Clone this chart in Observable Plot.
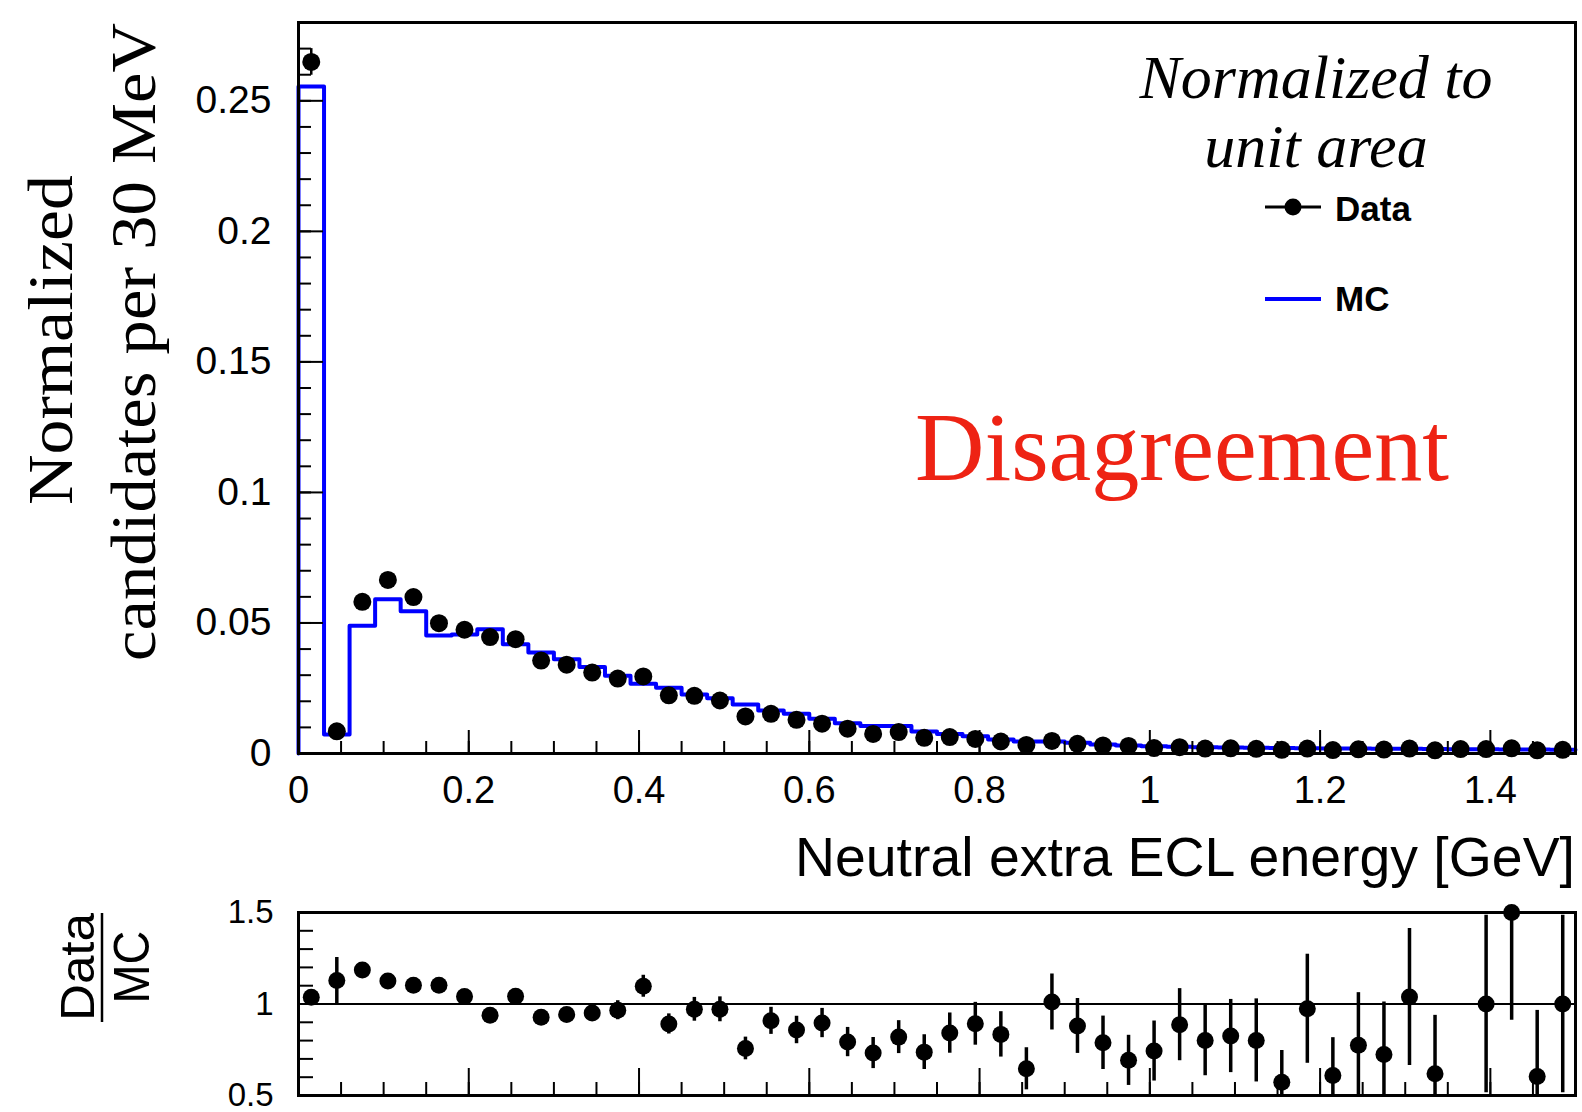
<!DOCTYPE html>
<html>
<head>
<meta charset="utf-8">
<script src="https://cdn.jsdelivr.net/npm/d3@7"></script>
<script src="https://cdn.jsdelivr.net/npm/@observablehq/plot@0.6"></script>
<style>
html, body { margin: 0; padding: 0; background: #fff; }
#wrap { position: relative; width: 1582px; height: 1112px; overflow: hidden; background: #fff; }
#main { position: absolute; left: 0; top: 0; }
#ratio { position: absolute; left: 0; top: 890px; }
svg { overflow: visible; }
</style>
</head>
<body>
<div id="wrap"><div id="main"></div><div id="ratio"></div></div>
<script>
// ---------- data ----------
const binWidth = 0.03;          // 30 MeV bins
const xRange = [0, 1.5];

// Data: normalized candidates per bin
const dataVals = [0.2649, 0.0085, 0.0581, 0.0665, 0.0599, 0.0499, 0.0474, 0.0446, 0.0438, 0.0356,
                  0.0340, 0.0310, 0.0287, 0.0295, 0.0223, 0.0221, 0.0203, 0.0142, 0.0152, 0.0129,
                  0.0114, 0.0095, 0.0075, 0.0082, 0.0060, 0.0063, 0.0056, 0.0046, 0.0033, 0.0048,
                  0.0037, 0.0031, 0.0029, 0.0021, 0.0024, 0.0019, 0.0020, 0.0018, 0.0014, 0.0019,
                  0.0013, 0.0016, 0.0015, 0.0019, 0.0012, 0.0017, 0.0017, 0.0020, 0.0012, 0.0014];
const dataErr  = [0.0051, 0.0008, 0.0014, 0.0015, 0.0014, 0.0013, 0.0013, 0.0012, 0.0012, 0.0011,
                  0.0011, 0.0010, 0.0010, 0.0010, 0.0009, 0.0009, 0.0009, 0.0008, 0.0008, 0.0007,
                  0.0007, 0.0006, 0.0006, 0.0006, 0.0005, 0.0005, 0.0005, 0.0005, 0.0004, 0.0004,
                  0.0004, 0.0004, 0.0004, 0.0003, 0.0003, 0.0003, 0.0003, 0.0003, 0.0003, 0.0003,
                  0.0003, 0.0003, 0.0003, 0.0003, 0.0003, 0.0003, 0.0003, 0.0003, 0.0003, 0.0003];
// MC: normalized histogram
const mcVals   = [0.2555, 0.0073, 0.0489, 0.0591, 0.0545, 0.0452, 0.0456, 0.0476, 0.0418, 0.0387,
                  0.0361, 0.0331, 0.0298, 0.0267, 0.0252, 0.0226, 0.0212, 0.0188, 0.0165, 0.0152,
                  0.0133, 0.0116, 0.0105, 0.0105, 0.0084, 0.0075, 0.0066, 0.0054, 0.0046, 0.0046,
                  0.0041, 0.0034, 0.0031, 0.0028, 0.0026, 0.0024, 0.0023, 0.0022, 0.0021, 0.0020,
                  0.0019, 0.0019, 0.0018, 0.0018, 0.0017, 0.0016, 0.0016, 0.0015, 0.0015, 0.0014];
// Data / MC ratio and its uncertainty (null = not shown)
const ratioVals = [1.037, 1.128, 1.186, 1.126, 1.103, 1.103, 1.041, 0.939, 1.042, 0.928,
                   0.942, 0.951, 0.966, 1.097, 0.891, 0.971, 0.971, 0.757, 0.908, 0.858,
                   0.896, 0.792, 0.732, 0.819, 0.737, 0.841, 0.892, 0.834, 0.646, 1.011,
                   0.880, 0.788, 0.692, 0.743, 0.887, 0.801, 0.825, 0.801, 0.573, 0.974,
                   0.609, 0.774, 0.724, 1.038, 0.619, null, 1.000, 1.500, 0.604, 1.000];
const ratioErr  = [0.015, 0.126, 0.020, 0.020, 0.020, 0.020, 0.022, 0.025, 0.025, 0.030,
                   0.030, 0.035, 0.052, 0.060, 0.055, 0.065, 0.068, 0.062, 0.074, 0.075,
                   0.080, 0.080, 0.085, 0.090, 0.095, 0.110, 0.117, 0.124, 0.115, 0.153,
                   0.150, 0.146, 0.137, 0.164, 0.197, 0.193, 0.200, 0.227, 0.173, 0.298,
                   0.207, 0.288, 0.287, 0.374, 0.319, null, 0.485, 0.589, 0.361, 0.485];

// tick labels
const mainYTicks  = [0, 0.05, 0.1, 0.15, 0.2, 0.25];
const xTicks      = [0, 0.2, 0.4, 0.6, 0.8, 1, 1.2, 1.4];
const ratioYTicks = [0.5, 1, 1.5];

// texts
const yTitle = ["Normalized", "candidates per 30 MeV"];
const xTitle = "Neutral extra ECL energy [GeV]";
const legendTitle = ["Normalized to", "unit area"];
const legendItems = ["Data", "MC"];
const stamp = "Disagreement";

// ---------- derived tables ----------
const bins = dataVals.map((v, i) => ({
  x: (i + 0.5) * binWidth, data: v, err: dataErr[i], mc: mcVals[i], r: ratioVals[i], re: ratioErr[i]
}));
const mcStep = [{x: 0, y: 0}]
  .concat(mcVals.map((v, i) => ({x: i * binWidth, y: v})))
  .concat([{x: mcVals.length * binWidth, y: mcVals[mcVals.length - 1]}]);
const ratioBins = bins.filter(d => d.r != null);

const minorYMain = d3.range(0, 29).map(i => i / 100);
const minorX = d3.range(0, 31).map(i => i * 0.05);
const minorYRatio = d3.range(5, 16).map(i => i / 10);

const SANS = "'Liberation Sans', Arial, Helvetica, sans-serif";
const SERIF = "'Liberation Serif', 'Times New Roman', Times, serif";
const BLUE = "#0000ff";
const blank = () => "";

// ---------- main panel ----------
const main = Plot.plot({
  width: 1582, height: 890,
  marginLeft: 298, marginRight: 7, marginTop: 22, marginBottom: 137,
  x: {domain: xRange, label: null},
  y: {domain: [0, 0.28], label: null},
  style: {fontFamily: SANS, background: "white", color: "black"},
  marks: [
    Plot.line(mcStep, {x: "x", y: "y", curve: "step-after", stroke: BLUE, strokeWidth: 4}),
    Plot.ruleX(bins, {x: "x", y1: d => d.data - d.err, y2: d => d.data + d.err, stroke: "black", strokeWidth: 2.5}),
    Plot.dot(bins, {x: "x", y: "data", r: 9, fill: "black", stroke: "none"}),
    Plot.axisY(minorYMain, {tickSize: -13, tickFormat: blank, label: null, strokeWidth: 2}),
    Plot.axisY(mainYTicks, {tickSize: -25, tickFormat: blank, label: null, strokeWidth: 2}),
    Plot.axisY(mainYTicks, {tickSize: 0, tickPadding: 27, fontSize: 39, tickFormat: d => String(d), label: null}),
    Plot.axisX(minorX, {tickSize: -12, tickFormat: blank, label: null, strokeWidth: 2}),
    Plot.axisX(xTicks, {tickSize: -23, tickFormat: blank, label: null, strokeWidth: 2}),
    Plot.axisX(xTicks, {tickSize: 0, tickPadding: 23, fontSize: 38, tickFormat: d => String(d), label: null}),
    Plot.frame({stroke: "black", strokeWidth: 3})
  ]
});
document.getElementById("main").appendChild(main);

// annotations on the main panel
{
  const svg = d3.select(main);
  const g = svg.append("g").attr("text-anchor", "start");
  // y title (two rotated lines)
  g.append("text").attr("transform", "translate(72,340) rotate(-90)")
    .attr("text-anchor", "middle").attr("font-family", SERIF).attr("font-size", 64)
    .attr("textLength", 330).attr("lengthAdjust", "spacingAndGlyphs").text(yTitle[0]);
  g.append("text").attr("transform", "translate(155,342) rotate(-90)")
    .attr("text-anchor", "middle").attr("font-family", SERIF).attr("font-size", 64)
    .attr("textLength", 638).attr("lengthAdjust", "spacingAndGlyphs").text(yTitle[1]);
  // x title
  g.append("text").attr("x", 1575).attr("y", 876).attr("text-anchor", "end")
    .attr("font-family", SANS).attr("font-size", 55)
    .attr("textLength", 780).attr("lengthAdjust", "spacingAndGlyphs").text(xTitle);
  // legend title
  g.append("text").attr("x", 1316).attr("y", 98).attr("text-anchor", "middle")
    .attr("font-family", SERIF).attr("font-style", "italic").attr("font-size", 62).text(legendTitle[0]);
  g.append("text").attr("x", 1316).attr("y", 167).attr("text-anchor", "middle")
    .attr("font-family", SERIF).attr("font-style", "italic").attr("font-size", 62).text(legendTitle[1]);
  // legend: Data
  g.append("line").attr("x1", 1265).attr("x2", 1321).attr("y1", 207).attr("y2", 207)
    .attr("stroke", "black").attr("stroke-width", 3);
  g.append("circle").attr("cx", 1293).attr("cy", 207).attr("r", 8.5).attr("fill", "black");
  g.append("text").attr("x", 1335).attr("y", 221).attr("text-anchor", "start")
    .attr("font-family", SANS).attr("font-weight", "bold")
    .attr("font-size", 35).text(legendItems[0]);
  // legend: MC
  g.append("line").attr("x1", 1265).attr("x2", 1321).attr("y1", 299).attr("y2", 299)
    .attr("stroke", BLUE).attr("stroke-width", 4);
  g.append("text").attr("x", 1335).attr("y", 311).attr("text-anchor", "start")
    .attr("font-family", SANS).attr("font-weight", "bold")
    .attr("font-size", 35).text(legendItems[1]);
  // stamp
  g.append("text").attr("x", 915).attr("y", 480).attr("text-anchor", "start")
    .attr("font-family", SERIF).attr("font-size", 97)
    .attr("fill", "#ee2314").attr("textLength", 534).attr("lengthAdjust", "spacingAndGlyphs").text(stamp);
}

// ---------- ratio panel ----------
const ratio = Plot.plot({
  width: 1582, height: 222,
  marginLeft: 298, marginRight: 7, marginTop: 22, marginBottom: 17,
  x: {domain: xRange, label: null},
  y: {domain: [0.5, 1.5], label: null},
  style: {fontFamily: SANS, background: "white", color: "black"},
  marks: [
    Plot.ruleY([1], {stroke: "black", strokeWidth: 2}),
    Plot.ruleX(ratioBins, {x: "x", y1: d => d.r - d.re, y2: d => d.r + d.re, stroke: "black", strokeWidth: 3.5, clip: true}),
    Plot.dot(ratioBins, {x: "x", y: "r", r: 8.5, fill: "black", stroke: "none"}),
    Plot.axisY(minorYRatio, {tickSize: -15, tickFormat: blank, label: null, strokeWidth: 2}),
    Plot.axisY(ratioYTicks, {tickSize: 0, tickPadding: 25, fontSize: 33, tickFormat: d => String(d), label: null}),
    Plot.axisX(minorX, {tickSize: -13, tickFormat: blank, label: null, strokeWidth: 2}),
    Plot.axisX(xTicks, {tickSize: -27, tickFormat: blank, label: null, strokeWidth: 2}),
    Plot.frame({stroke: "black", strokeWidth: 3})
  ]
});
document.getElementById("ratio").appendChild(ratio);

{
  const svg = d3.select(ratio);
  const g = svg.append("g");
  // Data / MC fraction label (rotated); panel-local coordinates (panel top = 890)
  g.append("text").attr("transform", "translate(94,77) rotate(-90)")
    .attr("text-anchor", "middle").attr("font-family", SANS).attr("font-size", 48)
    .attr("textLength", 108).attr("lengthAdjust", "spacingAndGlyphs").text("Data");
  g.append("line").attr("x1", 102).attr("x2", 102).attr("y1", 23).attr("y2", 132)
    .attr("stroke", "black").attr("stroke-width", 2.5);
  g.append("text").attr("transform", "translate(149,77) rotate(-90)")
    .attr("text-anchor", "middle").attr("font-family", SANS).attr("font-size", 50)
    .attr("textLength", 73).attr("lengthAdjust", "spacingAndGlyphs").text("MC");
}
</script>
</body>
</html>
